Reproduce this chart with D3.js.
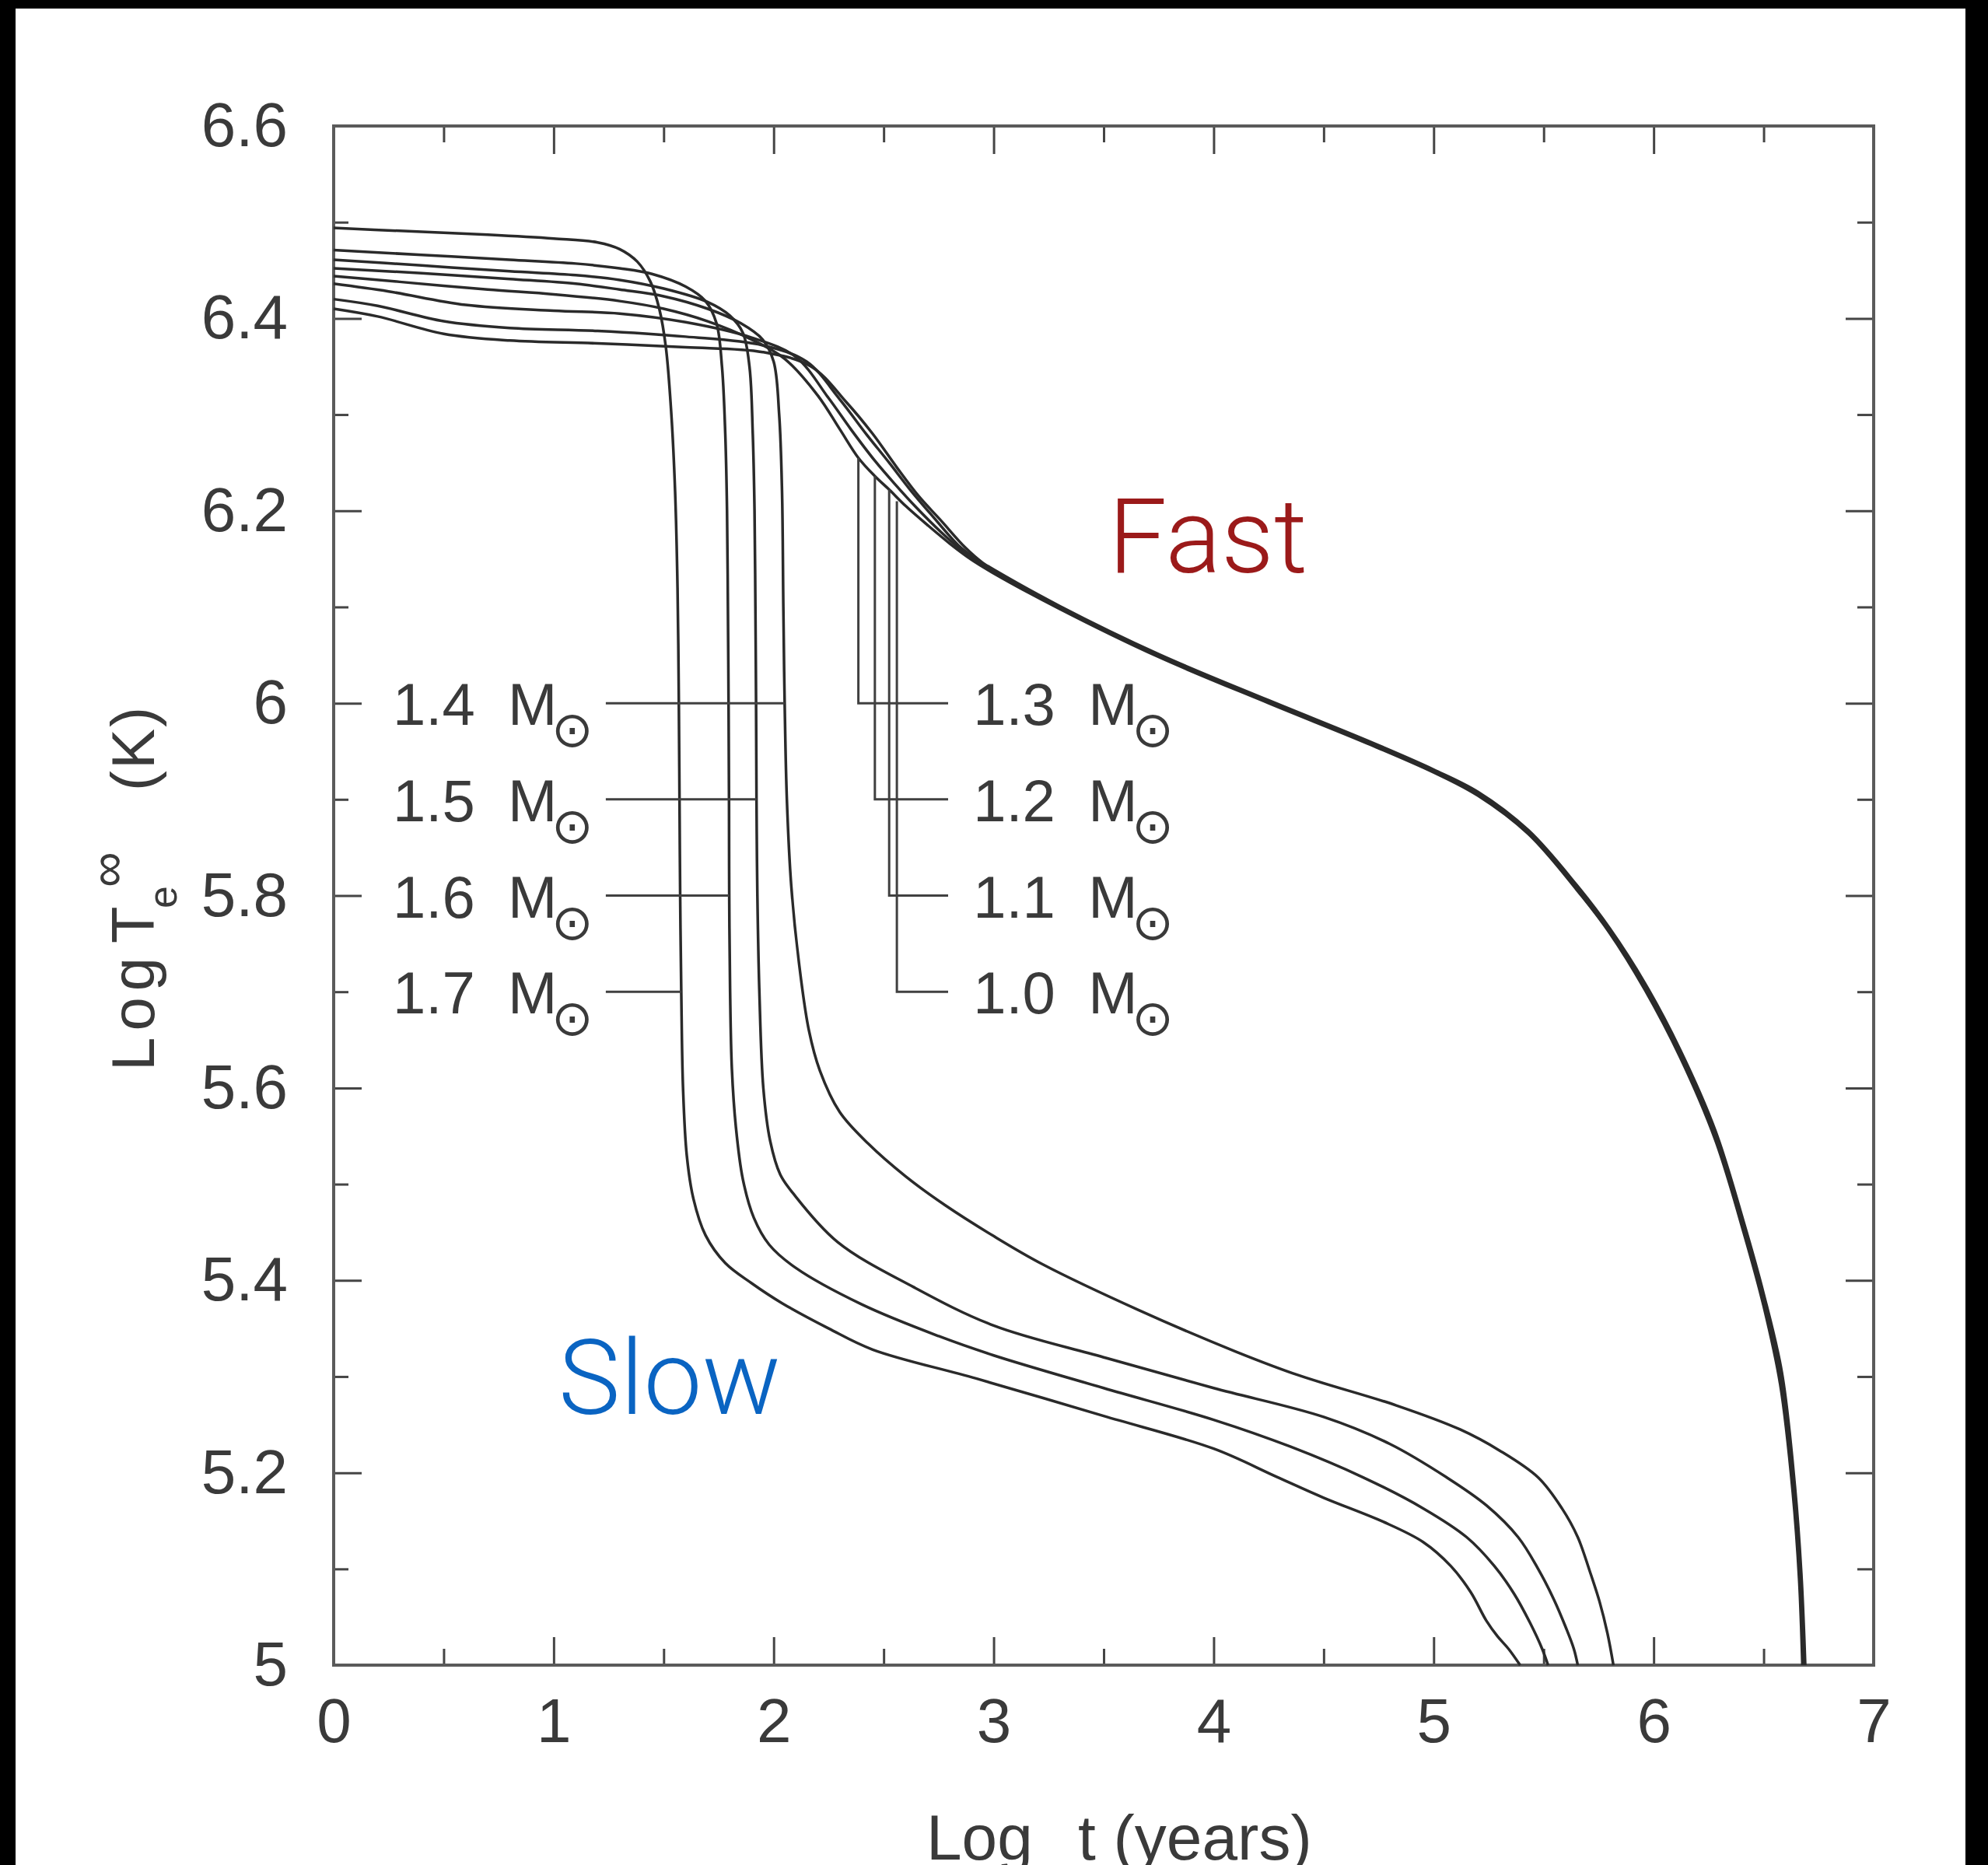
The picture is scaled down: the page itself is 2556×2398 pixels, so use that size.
<!DOCTYPE html>
<html><head><meta charset="utf-8">
<script src="https://cdn.jsdelivr.net/npm/d3@7"></script>
<style>
html,body{margin:0;padding:0;background:#000;}
svg{display:block;}
</style></head>
<body>
<svg id="chart" width="2556" height="2398"></svg>
<script>
// ---------------- DATA ----------------
const xTickValues = [0, 1, 2, 3, 4, 5, 6, 7];
const xTickLabels = ["0", "1", "2", "3", "4", "5", "6", "7"];
const xMinorValues = [0.5, 1.5, 2.5, 3.5, 4.5, 5.5, 6.5];
const yTickValues = [5.0, 5.2, 5.4, 5.6, 5.8, 6.0, 6.2, 6.4, 6.6];
const yTickLabels = ["5", "5.2", "5.4", "5.6", "5.8", "6", "6.2", "6.4", "6.6"];
const yMinorValues = [5.1, 5.3, 5.5, 5.7, 5.9, 6.1, 6.3, 6.5];

// cooling curves: [log t (years), log Te (K)]
const curve17 = [[0,6.494],[0.3,6.491],[0.7,6.487],[1.0,6.483],[1.2,6.479],[1.3,6.472],[1.38,6.459],[1.44,6.438],[1.48,6.41],[1.51,6.37],[1.535,6.30],[1.552,6.22],[1.563,6.12],[1.569,6.0],[1.572,5.9],[1.575,5.8],[1.58,5.7],[1.588,5.6],[1.605,5.53],[1.635,5.485],[1.69,5.447],[1.78,5.418],[1.9,5.397],[2.04,5.376],[2.25,5.350],[2.45,5.328],[2.92,5.298],[3.5,5.259],[4.0,5.225],[4.284,5.196],[4.5,5.174],[4.771,5.149],[4.952,5.128],[5.078,5.103],[5.168,5.076],[5.24,5.046],[5.29,5.030],[5.34,5.017],[5.393,5.0]];
const curve16 = [[0,6.471],[0.4,6.466],[0.8,6.461],[1.1,6.457],[1.3,6.452],[1.45,6.446],[1.6,6.433],[1.69,6.418],[1.74,6.395],[1.765,6.35],[1.78,6.28],[1.788,6.20],[1.792,6.1],[1.795,6.0],[1.797,5.9],[1.798,5.8],[1.802,5.7],[1.81,5.62],[1.828,5.56],[1.86,5.505],[1.91,5.465],[1.98,5.437],[2.1,5.413],[2.4,5.375],[2.75,5.342],[3.0,5.322],[3.5,5.288],[4.0,5.255],[4.35,5.227],[4.681,5.195],[4.952,5.163],[5.15,5.133],[5.276,5.103],[5.366,5.074],[5.438,5.044],[5.493,5.017],[5.52,5.0]];
const curve15 = [[0,6.461],[0.4,6.455],[0.8,6.449],[1.1,6.445],[1.3,6.440],[1.5,6.431],[1.7,6.417],[1.8,6.403],[1.86,6.385],[1.89,6.35],[1.905,6.28],[1.913,6.2],[1.917,6.1],[1.92,6.0],[1.922,5.9],[1.926,5.8],[1.935,5.7],[1.953,5.6],[1.984,5.545],[2.03,5.51],[2.09,5.49],[2.29,5.44],[2.636,5.393],[3.0,5.353],[3.5,5.32],[4.0,5.288],[4.5,5.258],[4.8,5.230],[5.06,5.195],[5.24,5.166],[5.384,5.133],[5.475,5.10],[5.547,5.068],[5.601,5.039],[5.637,5.017],[5.655,5.0]];
const curve14 = [[0,6.452],[0.4,6.447],[0.8,6.441],[1.1,6.436],[1.3,6.430],[1.5,6.423],[1.7,6.41],[1.85,6.395],[1.95,6.378],[2.0,6.355],[2.025,6.30],[2.038,6.22],[2.044,6.1],[2.05,6.0],[2.06,5.9],[2.08,5.81],[2.115,5.73],[2.16,5.66],[2.21,5.618],[2.3,5.575],[2.43,5.542],[2.6,5.508],[2.78,5.478],[3.0,5.446],[3.22,5.417],[3.66,5.369],[4.1,5.326],[4.39,5.301],[4.83,5.270],[5.12,5.245],[5.3,5.223],[5.475,5.195],[5.583,5.163],[5.655,5.133],[5.709,5.098],[5.754,5.066],[5.79,5.033],[5.817,5.0]];
const curve13 = [[0,6.444],[0.3,6.438],[0.7,6.43],[1.0,6.425],[1.3,6.418],[1.5,6.41],[1.7,6.397],[1.9,6.378],[2.05,6.358],[2.2,6.32],[2.3,6.285],[2.385,6.255],[2.46,6.236],[2.525,6.222],[2.6,6.205],[2.7,6.185],[2.8,6.166],[2.9,6.149],[3.0,6.135],[3.3,6.098],[3.75,6.048],[4.25,6.0],[4.7,5.958],[5.0,5.928],[5.2,5.904],[5.43,5.864],[5.65,5.806],[5.8,5.761],[5.96,5.702],[6.12,5.632],[6.28,5.546],[6.41,5.449],[6.5,5.373],[6.575,5.292],[6.632,5.18],[6.661,5.09],[6.676,5.0]];
const curve12 = [[0,6.436],[0.25,6.428],[0.6,6.414],[1.0,6.408],[1.3,6.405],[1.6,6.396],[1.9,6.38],[2.1,6.36],[2.25,6.317],[2.35,6.285],[2.46,6.252],[2.55,6.228],[2.65,6.203],[2.76,6.178],[2.86,6.158],[2.93,6.147],[3.0,6.136],[3.3,6.099],[3.75,6.049],[4.25,6.001],[4.7,5.959],[5.0,5.929],[5.2,5.905],[5.43,5.865],[5.65,5.807],[5.8,5.762],[5.96,5.704],[6.12,5.634],[6.28,5.548],[6.41,5.452],[6.5,5.377],[6.577,5.296],[6.635,5.18],[6.664,5.09],[6.680,5.0]];
const curve11 = [[0,6.42],[0.2,6.413],[0.5,6.397],[0.8,6.39],[1.2,6.387],[1.6,6.381],[1.95,6.372],[2.15,6.355],[2.3,6.316],[2.42,6.28],[2.525,6.25],[2.62,6.222],[2.72,6.195],[2.84,6.164],[2.93,6.148],[3.0,6.138],[3.3,6.1],[3.75,6.05],[4.25,6.002],[4.7,5.960],[5.0,5.930],[5.2,5.906],[5.43,5.866],[5.65,5.809],[5.8,5.764],[5.96,5.706],[6.12,5.637],[6.28,5.552],[6.41,5.456],[6.5,5.381],[6.58,5.3],[6.638,5.183],[6.667,5.093],[6.684,5.0]];
const curve10 = [[0,6.41],[0.2,6.402],[0.5,6.384],[0.8,6.377],[1.2,6.374],[1.6,6.37],[1.95,6.365],[2.17,6.35],[2.33,6.313],[2.45,6.28],[2.56,6.245],[2.66,6.215],[2.76,6.19],[2.87,6.162],[2.95,6.146],[3.0,6.139],[3.3,6.101],[3.75,6.051],[4.25,6.003],[4.7,5.961],[5.0,5.931],[5.2,5.908],[5.43,5.868],[5.65,5.811],[5.8,5.766],[5.96,5.709],[6.12,5.640],[6.28,5.556],[6.41,5.460],[6.5,5.386],[6.583,5.304],[6.642,5.186],[6.671,5.096],[6.689,5.0]];

// mass labels
const slowMasses = ["1.4", "1.5", "1.6", "1.7"];
const slowLabelT = [6.0, 5.9, 5.8, 5.7];            // log Te of label line
const slowLabelCurveT = [2.05, 1.922, 1.798, 1.58]; // log t where line meets its curve
const fastMasses = ["1.3", "1.2", "1.1", "1.0"];
const fastLabelT = [6.0, 5.9, 5.8, 5.7];
const fastLeaderT = [2.385, 2.46, 2.525, 2.56];      // log t of vertical leader
const fastLeaderTopT = [6.255, 6.236, 6.222, 6.21];  // log Te where leader meets the curve bundle

// ---------------- LAYOUT ----------------
const W = 2556, H = 2398;
const X0 = 429, X1 = 2409, Y0 = 162, Y1 = 2141;
const svg = d3.select("#chart");
svg.append("rect").attr("width", W).attr("height", H).attr("fill", "#000");
svg.append("rect").attr("x", 20).attr("y", 11).attr("width", 2527 - 20).attr("height", H - 11).attr("fill", "#fff");

const x = d3.scaleLinear().domain([0, 7]).range([X0, X1]);
const y = d3.scaleLinear().domain([5.0, 6.6]).range([Y1, Y0]);

const FONT = "'Liberation Sans', Arial, Helvetica, sans-serif";
const TXT = "#3a3a3a";
const TICK = "#454545";

function styleAxis(g) {
  g.select(".domain").remove();
  g.selectAll(".tick line").attr("stroke", TICK).attr("stroke-width", 3);
  g.attr("font-family", FONT).attr("font-size", 80);
  g.selectAll(".tick text").attr("fill", TXT);
}

// bottom
svg.append("g").attr("transform", `translate(0,${Y1})`)
  .call(d3.axisBottom(x).tickValues(xTickValues).tickSize(-36).tickPadding(42).tickFormat((d, i) => xTickLabels[i]))
  .call(styleAxis);
svg.append("g").attr("transform", `translate(0,${Y1})`)
  .call(d3.axisBottom(x).tickValues(xMinorValues).tickSize(-21).tickFormat(""))
  .call(styleAxis);
// top
svg.append("g").attr("transform", `translate(0,${Y0})`)
  .call(d3.axisTop(x).tickValues(xTickValues).tickSize(-36).tickFormat(""))
  .call(styleAxis);
svg.append("g").attr("transform", `translate(0,${Y0})`)
  .call(d3.axisTop(x).tickValues(xMinorValues).tickSize(-21).tickFormat(""))
  .call(styleAxis);
// left
svg.append("g").attr("transform", `translate(${X0},0)`)
  .call(d3.axisLeft(y).tickValues(yTickValues).tickSize(-36).tickPadding(59).tickFormat((d, i) => yTickLabels[i]))
  .call(styleAxis);
svg.append("g").attr("transform", `translate(${X0},0)`)
  .call(d3.axisLeft(y).tickValues(yMinorValues).tickSize(-19).tickFormat(""))
  .call(styleAxis);
// right
svg.append("g").attr("transform", `translate(${X1},0)`)
  .call(d3.axisRight(y).tickValues(yTickValues).tickSize(-36).tickFormat(""))
  .call(styleAxis);
svg.append("g").attr("transform", `translate(${X1},0)`)
  .call(d3.axisRight(y).tickValues(yMinorValues).tickSize(-21).tickFormat(""))
  .call(styleAxis);

// frame
svg.append("rect").attr("x", X0).attr("y", Y0).attr("width", X1 - X0).attr("height", Y1 - Y0)
  .attr("fill", "none").attr("stroke", "#5a5a5a").attr("stroke-width", 4);

// curves
const curves = [curve17, curve16, curve15, curve14, curve13, curve12, curve11, curve10];
const line = d3.line().x(d => x(d[0])).y(d => y(d[1])).curve(d3.curveCatmullRom.alpha(0.5));
const cg = svg.append("g");
cg.selectAll("path").data(curves).join("path")
  .attr("d", line).attr("fill", "none").attr("stroke", "#2a2a2a").attr("stroke-width", 3.5)
  .attr("stroke-linejoin", "round");

// leader lines
const lg = svg.append("g").attr("stroke", "#404040").attr("stroke-width", 3).attr("fill", "none");
const slowLineStartT = 1.237, fastLineEndT = 2.793;
slowMasses.forEach((m, i) => {
  lg.append("line").attr("x1", x(slowLineStartT)).attr("x2", x(slowLabelCurveT[i]))
    .attr("y1", y(slowLabelT[i])).attr("y2", y(slowLabelT[i]));
});
fastMasses.forEach((m, i) => {
  lg.append("path").attr("d", d3.line()([
    [x(fastLeaderT[i]), y(fastLeaderTopT[i])],
    [x(fastLeaderT[i]), y(fastLabelT[i])],
    [x(fastLineEndT), y(fastLabelT[i])]
  ]));
});

// mass label texts
function massLabel(xl, T, m) {
  const yb = y(T) + 28;
  const g = svg.append("g").attr("font-family", FONT).attr("fill", TXT);
  g.append("text").attr("x", xl).attr("y", yb).attr("font-size", 76).text(m);
  g.append("text").attr("x", xl + 148).attr("y", yb).attr("font-size", 76).text("M");
  g.append("text").attr("x", xl + 204).attr("y", yb + 28).attr("font-size", 64)
    .attr("font-family", "'DejaVu Sans', sans-serif").text("\u2299");
}
slowMasses.forEach((m, i) => massLabel(x(0.29) - 6, slowLabelT[i], m));
fastMasses.forEach((m, i) => massLabel(x(2.928) - 6, fastLabelT[i], m));

// axis titles
const xt = svg.append("text").attr("font-family", FONT).attr("font-size", 82).attr("fill", TXT).attr("y", 2391);
xt.append("tspan").attr("x", 1191).text("Log");
xt.append("tspan").attr("x", 1386).text("t (years)");

const yt = svg.append("g").attr("transform", "translate(198,1373) rotate(-90)")
  .attr("font-family", FONT).attr("fill", TXT);
yt.append("text").attr("x", -4).attr("y", 0).attr("font-size", 78).attr("letter-spacing", 8).text("Log");
yt.append("text").attr("x", 160).attr("y", 0).attr("font-size", 78).text("T");
yt.append("text").attr("x", 205).attr("y", 29).attr("font-size", 52).text("e");
yt.append("text").attr("x", 232).attr("y", -38).attr("font-size", 64).text("\u221E");
yt.append("text").attr("x", 356).attr("y", 0).attr("font-size", 78).attr("letter-spacing", 2).text("(K)");

// annotations
svg.append("text").attr("x", 1425).attr("y", 736).attr("font-family", "Roboto, 'Liberation Sans', sans-serif")
  .attr("font-weight", 300).attr("font-size", 134).attr("fill", "#9b1a1a").text("Fast");
svg.append("text").attr("x", 718).attr("y", 1818).attr("font-family", "Roboto, 'Liberation Sans', sans-serif")
  .attr("font-weight", 300).attr("font-size", 134).attr("fill", "#0a64c2").text("Slow");
</script>
</body></html>
